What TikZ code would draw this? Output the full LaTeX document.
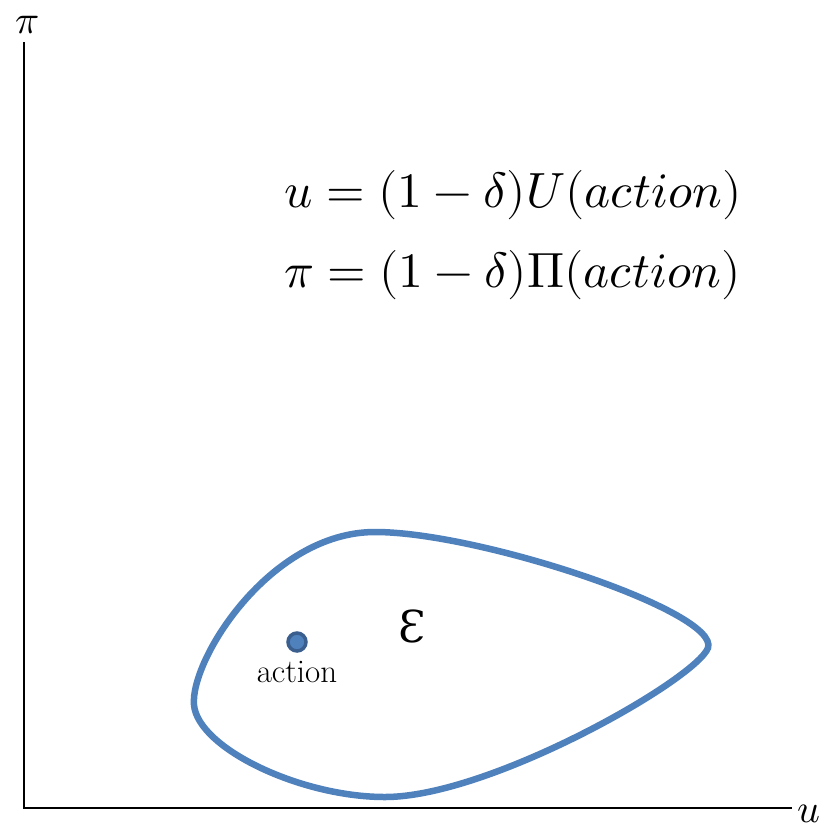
\documentclass[tikz,border=0pt]{standalone}
\usepackage{fontspec}
\usepackage{unicode-math}
\setmathfont{Latin Modern Math}
\newfontfamily\epsfont{DejaVu Serif}
\definecolor{blobblue}{HTML}{4F81BD}
\definecolor{dotedge}{HTML}{3A5F8F}
\begin{document}
\begin{tikzpicture}[x=1pt,y=-1pt,
  axis/.style={line width=2pt,black},
  blob/.style={line width=6.5pt,blobblue},
  eq/.style={inner sep=0pt,anchor=west,font=\fontsize{49.5}{60}\selectfont},
  lbl/.style={inner sep=0pt,font=\fontsize{40}{48}\selectfont}]
\useasboundingbox (0,0) rectangle (832,831);
\coordinate (O) at (24,808);
\coordinate (ytop) at (24,42);
\coordinate (xend) at (792,808);
\draw[axis] (ytop) -- (O) -- (xend);
\node[lbl] (pi) at (27,25) {$\pi$};
\node[lbl] (u) at (809,814) {$u$};
\node[eq] (eq1) at (284,195) {$u=(1-\delta)U(action)$};
\node[eq] (eq2) at (284,275) {$\pi=(1-\delta)\Pi(action)$};
\draw[blob] (194,705) .. controls (190,660) and (270,532) .. (375,532)
  .. controls (480,532) and (720,612) .. (708,648)
  .. controls (695,680) and (490,797) .. (385,797)
  .. controls (300,797) and (198,748) .. (194,705) -- cycle;
\node[circle,fill=blobblue,draw=dotedge,line width=3.5pt,minimum size=18pt,inner sep=0pt] (act) at (297,642) {};
\node[inner sep=0pt,font=\fontsize{33}{38}\selectfont] (actlbl) at (297,672) {action};
\node[inner sep=0pt,font=\fontsize{44}{50}\selectfont\epsfont] (E) at (412,626) {Ɛ};
\end{tikzpicture}
\end{document}
